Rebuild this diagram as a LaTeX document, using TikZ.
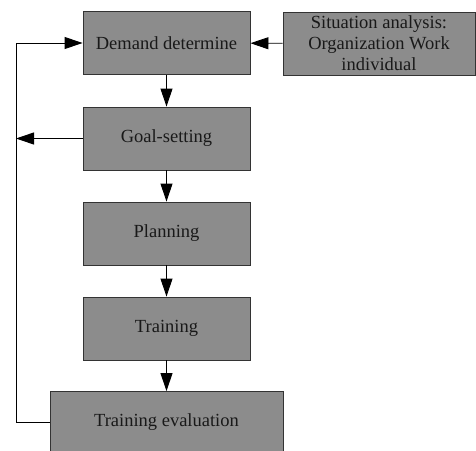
\documentclass[tikz,border=0pt]{standalone}
\usepackage{fontspec}
\setmainfont{Liberation Serif}
\usetikzlibrary{arrows.meta}
\begin{document}
\begin{tikzpicture}[x=1pt,y=1pt,
  stagebox/.style={draw=black!80, line width=0.9pt, fill=black!45,
    minimum width=167pt, minimum height=63pt, inner sep=2pt,
    font=\fontsize{18.5}{21}\selectfont, align=center, text=black!90},
  flow/.style={line width=0.9pt, -{Triangle[length=18pt,width=12pt]}},
  plain/.style={line width=0.9pt}]
  \useasboundingbox (0,0) rectangle (476,-450);

  \node[stagebox] (demand) at (166.5,-43) {Demand determine};
  \node[stagebox, minimum width=192pt] (situation) at (379,-43.5)
    {Situation analysis:\\Organization Work\\individual};
  \node[stagebox] (goal) at (166.5,-138.5) {Goal-setting};
  \node[stagebox] (plan) at (166.5,-233.5) {Planning};
  \node[stagebox] (train) at (166.5,-328.5) {Training};
  \node[stagebox, minimum width=233pt, minimum height=61pt] (eval) at (166.5,-422) {Training evaluation};

  \coordinate (loopbot) at (16,-422);
  \coordinate (looptop) at (16,-43);
  \coordinate (goalhit) at (16,-138.5);

  \draw[flow] (situation) -- (demand);
  \draw[flow] (demand) -- (goal);
  \draw[flow] (goal) -- (plan);
  \draw[flow] (plan) -- (train);
  \draw[flow] (train) -- (eval);
  \draw[flow] (eval.west) -- (loopbot) -- (looptop) -- (demand.west);
  \draw[flow] (goal.west) -- (goalhit);
\end{tikzpicture}
\end{document}
